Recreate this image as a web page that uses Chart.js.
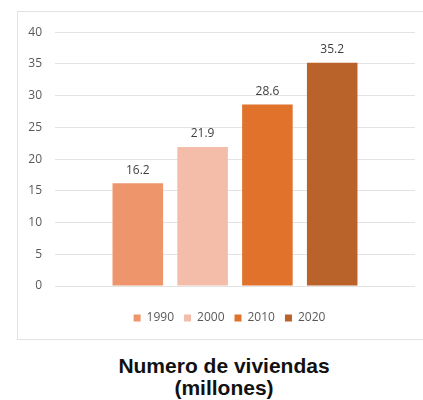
<!DOCTYPE html>
<html>
<head>
<meta charset="utf-8">
<script src="https://cdn.jsdelivr.net/npm/chart.js@4.4.0/dist/chart.umd.min.js"></script>
<style>
    body { margin: 0; background: #ffffff; width: 423px; height: 400px; overflow: hidden; position: relative; }
    #panel {
        position: absolute; left: 17px; top: 11px; width: 424px; height: 329px;
        box-sizing: border-box;
        border-top: 1px solid #e2e2e2; border-left: 1px solid #e2e2e2; border-bottom: 1px solid #e2e2e2;
    }
    #title {
        position: absolute; left: 0; top: 355px; width: 448px;
        text-align: center; font-family: "Liberation Sans", Arial, sans-serif;
        font-weight: bold; font-size: 21px; line-height: 22px; color: #111111;
    }
</style>
</head>
<body>
<div id="panel"><canvas id="chart" width="423" height="327"></canvas></div>
<div id="title">Numero de viviendas<br>(millones)</div>

<script>
// Years shown in the legend, one bar each
const years = ['1990', '2000', '2010', '2020'];
// Number of dwellings (millions)
const viviendas = [16.2, 21.9, 28.6, 35.2];
const colors = ['#ee956c', '#f3bda9', '#e0722c', '#b9622a'];
const y_ticks = [0, 5, 10, 15, 20, 25, 30, 35, 40];


document.addEventListener('DOMContentLoaded', function() {
    DrawChart();
})


// Write the value above every bar
const barLabels = {
    id: 'barLabels',
    afterDatasetsDraw(chart) {
        const ctx = chart.ctx;
        ctx.save();
        ctx.font = '12px "Open Sans"';
        ctx.fillStyle = '#404040';
        ctx.textAlign = 'center';
        ctx.textBaseline = 'middle';
        chart.data.datasets.forEach((ds, i) => {
            const bar = chart.getDatasetMeta(i).data[0];
            ctx.fillText(ds.data[0].toFixed(1), bar.x, bar.y - 13);
        });
        ctx.restore();
    }
};


function DrawChart() {
    let datasets = [];
    for (let i = 0; i < years.length; i++) {
        datasets.push({
            label: years[i],
            data: [viviendas[i]],
            backgroundColor: colors[i],
            borderWidth: 0,
            categoryPercentage: 0.72,
            barPercentage: 0.78
        });
    }

    new Chart(document.getElementById('chart'), {
        type: 'bar',
        data: {
            labels: [''],
            datasets: datasets
        },
        options: {
            responsive: false,
            animation: false,
            layout: {
                padding: { top: 17, right: 0, bottom: 5, left: 0 }
            },
            plugins: {
                legend: {
                    position: 'bottom',
                    labels: {
                        boxWidth: 7,
                        boxHeight: 7,
                        padding: 10,
                        color: '#595959',
                        font: { family: 'Open Sans', size: 12 }
                    }
                },
                tooltip: { enabled: false }
            },
            scales: {
                x: {
                    grid: { display: false },
                    border: { display: false },
                    ticks: { display: false },
                    afterFit: function(scale) { scale.height = 16; }
                },
                y: {
                    min: 0,
                    max: 40,
                    afterBuildTicks: function(scale) {
                        scale.ticks = y_ticks.map(v => ({ value: v }));
                    },
                    grid: { color: '#e3e3e3', drawTicks: false },
                    border: { display: false },
                    ticks: {
                        padding: 13,
                        color: '#595959',
                        font: { family: 'Open Sans', size: 12 }
                    },
                    afterFit: function(scale) { scale.width = 37; }
                },
                // empty axis that keeps the space on the right of the plot
                yRight: {
                    position: 'right',
                    min: 0,
                    max: 40,
                    grid: { display: false },
                    border: { display: false },
                    ticks: { display: false },
                    afterFit: function(scale) { scale.width = 26; }
                }
            }
        },
        plugins: [barLabels]
    })
}
</script>
</body>
</html>
